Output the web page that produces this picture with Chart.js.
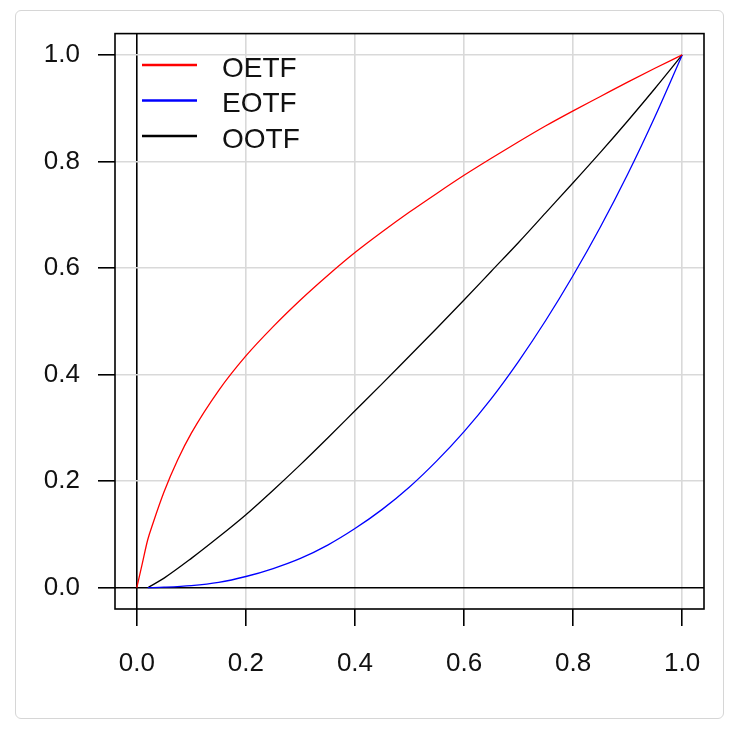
<!DOCTYPE html>
<html lang="en">
<head>
    <meta charset="UTF-8">
    <title>OETF / EOTF / OOTF</title>
    <script src="https://cdn.jsdelivr.net/npm/chart.js"></script>
    <style>
        body {
            margin: 0;
            padding: 0;
            background: #ffffff;
        }
        .card {
            position: absolute;
            left: 15px;
            top: 10px;
            width: 707px;
            height: 707px;
            border: 1px solid #d6d6d6;
            border-radius: 6px;
            background: #ffffff;
        }
        #curveChart {
            position: absolute;
            left: 0;
            top: 0;
        }
    </style>
</head>
<body>
    <div class="card"></div>
    <canvas id="curveChart" width="749" height="734" style="width:749px;height:734px"></canvas>
    <script>
        // values
        const tickValues = [0, 0.2, 0.4, 0.6, 0.8, 1.0];

        const oetfX = [0, 0.01, 0.02, 0.03, 0.05, 0.075, 0.1, 0.15, 0.2, 0.25, 0.3, 0.35, 0.4, 0.45, 0.5,
                       0.55, 0.6, 0.65, 0.7, 0.75, 0.8, 0.85, 0.9, 0.95, 1.0];
        const oetfY = [0, 0.045, 0.09, 0.122, 0.18, 0.24, 0.29, 0.37, 0.435, 0.49, 0.54, 0.586, 0.629, 0.668, 0.705,
                       0.74, 0.774, 0.806, 0.837, 0.867, 0.895, 0.922, 0.949, 0.975, 1.0];

        const eotfX = [0.02, 0.05, 0.1, 0.15, 0.2, 0.25, 0.3, 0.35, 0.4, 0.45, 0.5,
                       0.55, 0.6, 0.65, 0.7, 0.75, 0.8, 0.85, 0.9, 0.95, 1.0];
        const eotfY = [0, 0.001, 0.004, 0.01, 0.021, 0.036, 0.055, 0.08, 0.111, 0.147, 0.189,
                       0.238, 0.293, 0.355, 0.425, 0.502, 0.586, 0.677, 0.776, 0.884, 1.0];

        const ootfX = [0.02, 0.05, 0.1, 0.15, 0.2, 0.25, 0.3, 0.35, 0.4, 0.45, 0.5,
                       0.55, 0.6, 0.65, 0.7, 0.75, 0.8, 0.85, 0.9, 0.95, 1.0];
        const ootfY = [0, 0.018, 0.055, 0.095, 0.137, 0.183, 0.231, 0.281, 0.332, 0.383, 0.435,
                       0.487, 0.54, 0.594, 0.648, 0.704, 0.76, 0.817, 0.876, 0.937, 1.0];

        const seriesNames = ['OETF', 'EOTF', 'OOTF'];
        const seriesColors = ['#ff0000', '#0000ff', '#000000'];

        const FONT = '"Liberation Sans", Arial, sans-serif';

        function toPoints(xs, ys) {
            return xs.map((x, i) => ({ x: x, y: ys[i] }));
        }

        // box around the plot region and the R-style legend
        const boxAndLegend = {
            id: 'boxAndLegend',
            afterDraw(chart) {
                const ctx = chart.ctx;
                const a = chart.chartArea;
                ctx.save();
                ctx.strokeStyle = '#000';
                ctx.lineWidth = 1.6;
                ctx.strokeRect(a.left, a.top, a.right - a.left, a.bottom - a.top);

                ctx.font = '28px ' + FONT;
                ctx.textBaseline = 'middle';
                ctx.textAlign = 'left';
                chart.data.datasets.forEach((ds, i) => {
                    const y = 65 + i * 35.5;
                    ctx.strokeStyle = ds.borderColor;
                    ctx.lineWidth = 2.5;
                    ctx.beginPath();
                    ctx.moveTo(142, y);
                    ctx.lineTo(197, y);
                    ctx.stroke();
                    ctx.fillStyle = '#111';
                    ctx.fillText(ds.label, 222, y + 4);
                });
                ctx.restore();
            }
        };

        const gridColor = (c) => (c.tick && c.tick.value === 0) ? '#000000' : '#d9d9d9';

        const ctx = document.getElementById('curveChart').getContext('2d');
        const chart = new Chart(ctx, {
            type: 'scatter',
            data: {
                datasets: [
                    { label: seriesNames[0], data: toPoints(oetfX, oetfY), borderColor: seriesColors[0] },
                    { label: seriesNames[1], data: toPoints(eotfX, eotfY), borderColor: seriesColors[1] },
                    { label: seriesNames[2], data: toPoints(ootfX, ootfY), borderColor: seriesColors[2] }
                ].map(ds => Object.assign(ds, {
                    showLine: true,
                    pointRadius: 0,
                    borderWidth: 1.3,
                    cubicInterpolationMode: 'monotone',
                    fill: false
                }))
            },
            options: {
                responsive: false,
                animation: false,
                layout: {
                    padding: { top: 30, right: 45, left: 0, bottom: 0 }
                },
                plugins: {
                    legend: { display: false },
                    tooltip: { enabled: false }
                },
                scales: {
                    x: {
                        type: 'linear',
                        min: -0.04,
                        max: 1.04,
                        afterBuildTicks: (s) => { s.ticks = tickValues.map(v => ({ value: v })); },
                        afterFit: (s) => { s.height = 125; },
                        border: { display: false },
                        grid: {
                            color: gridColor,
                            lineWidth: 1.6,
                            tickColor: '#000',
                            tickLength: 17,
                            tickWidth: 1.6
                        },
                        ticks: {
                            padding: 22,
                            color: '#111',
                            font: { family: FONT, size: 26 },
                            callback: (v) => v.toFixed(1)
                        }
                    },
                    y: {
                        type: 'linear',
                        min: -0.04,
                        max: 1.04,
                        afterBuildTicks: (s) => { s.ticks = tickValues.map(v => ({ value: v })); },
                        afterFit: (s) => { s.width = 115; },
                        border: { display: false },
                        grid: {
                            color: gridColor,
                            lineWidth: 1.6,
                            tickColor: '#000',
                            tickLength: 17,
                            tickWidth: 1.6
                        },
                        ticks: {
                            padding: 18,
                            color: '#111',
                            font: { family: FONT, size: 26 },
                            callback: (v) => v.toFixed(1)
                        }
                    }
                }
            },
            plugins: [boxAndLegend]
        });
    </script>
</body>
</html>
